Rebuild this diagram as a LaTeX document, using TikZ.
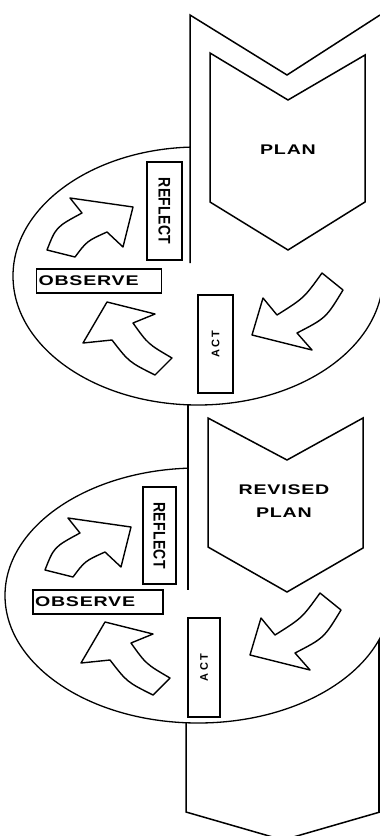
\documentclass[tikz,border=0pt]{standalone}
\usepackage{fontspec}
\setmainfont{Liberation Sans}
\usetikzlibrary{positioning}

\tikzset{
  edge/.style={line width=1.5pt, line join=miter},
  ring/.style={line width=1.3pt},
  chev/.style={line width=1.5pt, fill=white},
  lbl/.style={font=\fontsize{14}{23}\selectfont\bfseries},
  tagbox/.style={draw, line width=1.6pt, fill=white, inner sep=0pt, font=\fontsize{14}{15}\selectfont\bfseries},
  blk/.style={line width=1.4pt, fill=white, line join=round},
}
\newcommand{\wide}[1]{\scalebox{1.4}[1]{\addfontfeatures{LetterSpace=4}#1}}
\newcommand{\tall}[1]{\scalebox{1}[1.2]{\addfontfeatures{LetterSpace=2}#1}}
\newcommand{\spaced}[1]{{\fontsize{11}{13}\selectfont\addfontfeatures{LetterSpace=22}#1}}

% the three bent arrows of one loop
\newcommand{\looparrows}{%
  \draw[blk] (47,250) -- (75,257) .. controls (87,241) .. (107,232) -- (123,247)
    -- (133,207) -- (70,198) -- (82,213) .. controls (56,227) .. (47,250) -- cycle;
  \draw[blk] (172,358) -- (155,375) .. controls (129,362) .. (112,340) -- (83,343)
    -- (107,302) -- (155,314) -- (133,323) .. controls (148,344) .. (172,358) -- cycle;
  \draw[blk] (322,273) -- (343,290) .. controls (326,318) .. (297,333) -- (312,350)
    -- (252,335) -- (263,298) -- (277,315) .. controls (304,298) .. (322,273) -- cycle;
}

\begin{document}
\begin{tikzpicture}[x=1pt,y=-1pt]
\useasboundingbox (0,0) rectangle (380,836);
\clip (0,0) rectangle (380,836);

% loops
\draw[ring] (198,276) ellipse [x radius=185, y radius=129];
\draw[ring] (198,595.5) ellipse [x radius=193, y radius=127.5];

% big arrow passes over the back of each loop
\fill[white] (190,15) -- (287,75) -- (380,15) -- (380,263) -- (190,263) -- cycle;
\fill[white] (188,407) rectangle (380,590);
\draw[edge] (190,263) -- (190,15) -- (287,75) -- (380,15);
\draw[edge] (188,405) -- (188,590);
\draw[edge] (186,723) -- (186,812) -- (283,840) -- (380,812);
\draw[edge] (379,640) -- (379,812);

% plans
\draw[chev] (210,53) -- (288,100) -- (365,55) -- (365,202) -- (288,250) -- (210,202) -- cycle;
\node[lbl] (plan) at (288,150) {\wide{PLAN}};
\draw[chev] (208,418) -- (287,460) -- (363,418) -- (363,548) -- (287,592) -- (208,547) -- cycle;
\node[lbl, align=center] (revised) at (284,501) {\wide{REVISED}\\\wide{PLAN}};

% first loop
\node[tagbox, rotate=-90, minimum width=98pt, minimum height=35pt] (reflect1) at (164.5,211) {\tall{REFLECT}};
\node[tagbox, text width=121pt, inner xsep=2pt, minimum height=24pt, align=left] (observe1) at (99,281) {\wide{OBSERVE}};
\node[tagbox, rotate=90, minimum width=98pt, minimum height=35pt] (act1) at (215.5,344) {\spaced{ACT}};
\looparrows

% second loop
\node[tagbox, rotate=-90, minimum width=97pt, minimum height=33pt] (reflect2) at (159.5,535.5) {\tall{REFLECT}};
\node[tagbox, text width=126pt, inner xsep=2pt, minimum height=24pt, align=left] (observe2) at (98,602) {\wide{OBSERVE}};
\node[tagbox, rotate=90, minimum width=99pt, minimum height=32pt] (act2) at (204,667.5) {\spaced{ACT}};
\begin{scope}[shift={(-2,320)}]
  \looparrows
\end{scope}
\end{tikzpicture}
\end{document}
